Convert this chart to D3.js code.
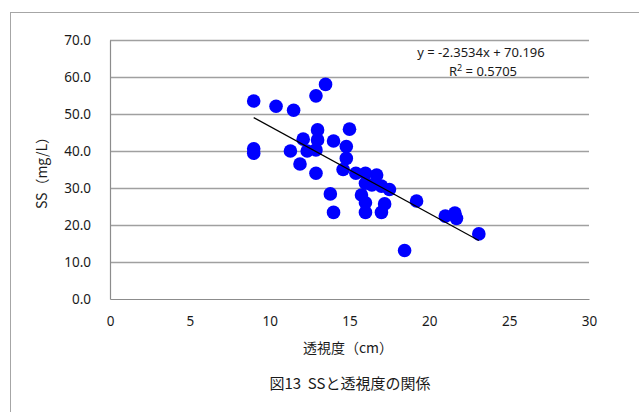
<!DOCTYPE html>
<html>
<head>
<meta charset="utf-8">
<script src="https://cdn.jsdelivr.net/npm/d3@7"></script>
<style>
  html, body { margin: 0; padding: 0; background: #fff; }
  svg { display: block; }
  text { font-family: "Noto Sans CJK JP", "Noto Sans", sans-serif; fill: #1a1a1a; white-space: pre; }
</style>
</head>
<body>
<svg id="chart" width="639" height="412"></svg>
<script>
// Transparency (cm) and suspended solids (mg/L) samples
const transparency = [9.0, 9.0, 9.0, 10.4, 11.5, 12.9, 13.5, 11.3, 12.1, 12.35,
  11.9, 13.0, 13.0, 12.9, 12.9, 14.0, 15.0, 14.8, 14.8, 14.6,
  13.8, 14.0, 15.4, 16.0, 16.7, 16.0, 16.4, 17.0, 17.5, 15.75,
  16.0, 16.0, 17.2, 17.0, 18.45, 19.2, 21.0, 21.6, 21.7, 23.1];
const ss = [53.5, 40.6, 39.4, 52.1, 51.0, 54.9, 58.0, 40.0, 43.2, 40.0,
  36.5, 45.7, 43.0, 40.3, 34.0, 42.7, 45.9, 41.2, 38.0, 35.0,
  28.4, 23.4, 34.0, 34.0, 33.5, 31.3, 30.8, 30.5, 29.6, 28.1,
  26.0, 23.4, 25.7, 23.4, 13.1, 26.5, 22.4, 23.2, 21.8, 17.6];

// Linear trend (least squares) as stated on the chart
const slope = -2.3534;
const intercept = 70.196;
const r2 = 0.5705;

const xTicks = [0, 5, 10, 15, 20, 25, 30];
const yTicks = [0, 10, 20, 30, 40, 50, 60, 70];

const xLabel = "透視度（cm）";
const yLabel = "SS（mg/L）";
const title = "図13  SSと透視度の関係";

const svg = d3.select("#chart");

// outer chart frame
svg.append("rect")
  .attr("x", 10.5).attr("y", 12.5)
  .attr("width", 700).attr("height", 500)
  .attr("fill", "none").attr("stroke", "#a6a6a6").attr("stroke-width", 1);

const plotL = 110, plotR = 589, plotT = 40, plotB = 299;
const x = d3.scaleLinear().domain([0, 30]).range([plotL, plotR]);
const y = d3.scaleLinear().domain([0, 70]).range([plotB, plotT]);

// horizontal gridlines
svg.append("g")
  .selectAll("line")
  .data(yTicks.filter(d => d > 0))
  .join("line")
  .attr("x1", plotL).attr("x2", plotR)
  .attr("y1", d => Math.round(y(d)) + 0.5).attr("y2", d => Math.round(y(d)) + 0.5)
  .attr("stroke", "#a0a0a0").attr("stroke-width", 1.3);

// y axis
const yAxis = svg.append("g")
  .attr("transform", `translate(${plotL},0)`)
  .call(d3.axisLeft(y).tickValues(yTicks).tickFormat(d3.format(".1f")).tickSize(0).tickPadding(19));
yAxis.select(".domain").attr("stroke", "#8c8c8c").attr("stroke-width", 1.2);
yAxis.selectAll("text").attr("font-size", 13.5).attr("fill", "#1a1a1a")
  .style("font-family", "'Noto Sans', sans-serif");

// x axis
const xAxis = svg.append("g")
  .attr("transform", `translate(0,${plotB})`)
  .call(d3.axisBottom(x).tickValues(xTicks).tickSize(0).tickPadding(17));
xAxis.select(".domain").attr("stroke", "#8c8c8c").attr("stroke-width", 1.2);
xAxis.selectAll("text").attr("font-size", 13.5).attr("fill", "#1a1a1a")
  .style("font-family", "'Noto Sans', sans-serif");

// data points
const pts = transparency.map((t, i) => ({ t, s: ss[i] }));
svg.append("g")
  .selectAll("circle")
  .data(pts)
  .join("circle")
  .attr("cx", d => x(d.t))
  .attr("cy", d => y(d.s))
  .attr("r", 6.8)
  .attr("fill", "#0000ff");

// trend line across the data range
const [tMin, tMax] = d3.extent(transparency);
svg.append("line")
  .attr("x1", x(tMin)).attr("y1", y(slope * tMin + intercept))
  .attr("x2", x(tMax)).attr("y2", y(slope * tMax + intercept))
  .attr("stroke", "#000").attr("stroke-width", 1.2);

// trend equation
svg.append("text")
  .attr("x", 481).attr("y", 57)
  .attr("text-anchor", "middle").attr("font-size", 13)
  .style("font-family", "'Noto Sans', sans-serif")
  .text(`y = ${slope}x + ${intercept}`);
const r2Text = svg.append("text")
  .attr("x", 483).attr("y", 76)
  .attr("text-anchor", "middle").attr("font-size", 13)
  .style("font-family", "'Noto Sans', sans-serif");
r2Text.append("tspan").text("R");
r2Text.append("tspan").attr("font-size", 9).attr("dy", -5).text("2");
r2Text.append("tspan").attr("dy", 5).text(` = ${r2}`);

// axis titles
svg.append("text")
  .attr("transform", `translate(47,${(plotT + plotB) / 2}) rotate(-90)`)
  .attr("text-anchor", "middle").attr("font-size", 14)
  .text(yLabel);

svg.append("text")
  .attr("x", 348).attr("y", 353)
  .attr("text-anchor", "middle").attr("font-size", 14)
  .text(xLabel);

svg.append("text")
  .attr("x", 350).attr("y", 389)
  .attr("text-anchor", "middle").attr("font-size", 15)
  .text(title);
</script>
</body>
</html>
